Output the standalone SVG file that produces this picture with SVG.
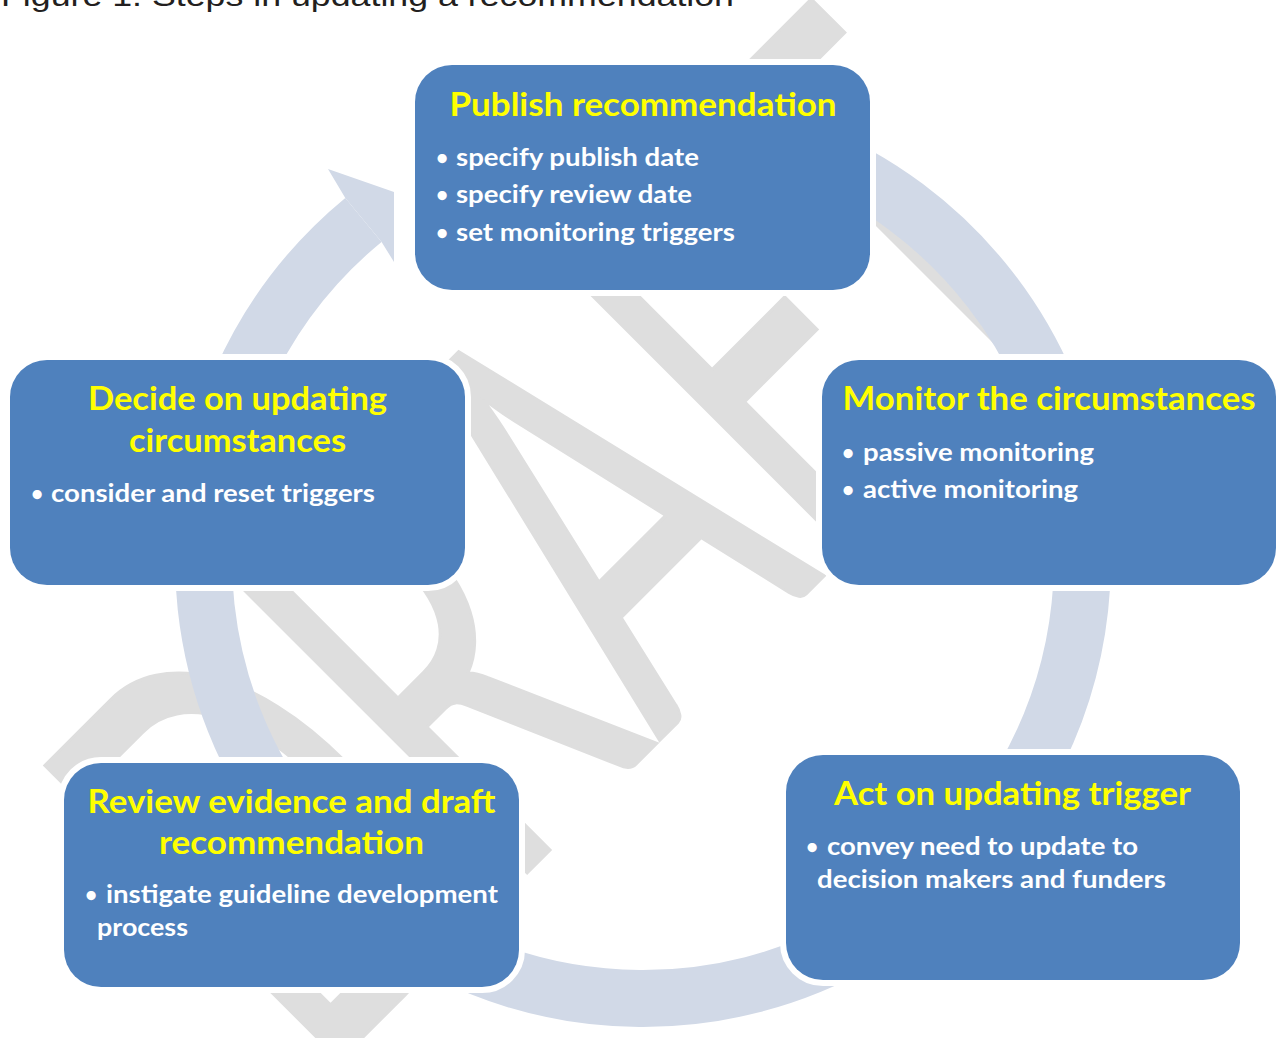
<svg xmlns="http://www.w3.org/2000/svg" width="1279" height="1038" viewBox="0 0 1279 1038">
<style>
  .box{fill:#4f81bd;stroke:#ffffff;stroke-width:12;paint-order:stroke}
  .ttl{font-family:Lato,"Open Sans","Liberation Sans",sans-serif;font-weight:700;font-size:32px;fill:#ffff00}
  .txt{font-family:Lato,"Open Sans","Liberation Sans",sans-serif;font-weight:700;font-size:25px;fill:#ffffff}
  .dot{font-family:Lato,"Open Sans","Liberation Sans",sans-serif;font-weight:700;font-size:21px;fill:#ffffff;text-anchor:middle}
  .ring{fill:none;stroke:#d1d9e7;stroke-width:57}
</style>
<rect x="0" y="0" width="1279" height="1038" fill="#ffffff"/>
<g id="watermark">
  <text transform="rotate(-45)" x="-542" y="990" textLength="1122" lengthAdjust="spacingAndGlyphs" font-family="Lato,'Open Sans',sans-serif" font-size="582" fill="#dedede" stroke="#dedede" stroke-width="3">DRAFT</text>
</g>
<text id="figure-title" x="1" y="6" textLength="733" lengthAdjust="spacingAndGlyphs" font-family="'Liberation Sans',Arial,sans-serif" font-size="29" fill="#231f20">Figure 1. Steps in updating a recommendation</text>
<g id="connectors">
  <path class="ring" d="M 492.7 146.0 A 439.5 439.5 0 1 1 363.4 219.9"/>
  <polygon points="345.3,197.9 328,169 394,192 394,262 381.6,241.9" fill="#d1d9e7"/>
</g>
<g id="node-publish">
  <rect class="box" x="415" y="65" width="455" height="225" rx="37" ry="37"/>
  <text class="ttl" x="449.5" y="116" textLength="387" lengthAdjust="spacingAndGlyphs">Publish recommendation</text>
  <text class="dot" x="442" y="165">•</text>
  <text class="txt" x="456" y="166" textLength="243" lengthAdjust="spacingAndGlyphs">specify publish date</text>
  <text class="dot" x="442" y="202">•</text>
  <text class="txt" x="456" y="203" textLength="236" lengthAdjust="spacingAndGlyphs">specify review date</text>
  <text class="dot" x="442" y="240">•</text>
  <text class="txt" x="456" y="241" textLength="279" lengthAdjust="spacingAndGlyphs">set monitoring triggers</text>
</g>
<g id="node-monitor">
  <rect class="box" x="822" y="360" width="454" height="225" rx="37" ry="37"/>
  <text class="ttl" x="842.5" y="410" textLength="413" lengthAdjust="spacingAndGlyphs">Monitor the circumstances</text>
  <text class="dot" x="848" y="460">•</text>
  <text class="txt" x="863" y="461" textLength="231" lengthAdjust="spacingAndGlyphs">passive monitoring</text>
  <text class="dot" x="848" y="497">•</text>
  <text class="txt" x="863" y="498" textLength="215" lengthAdjust="spacingAndGlyphs">active monitoring</text>
</g>
<g id="node-act">
  <rect class="box" x="786" y="755" width="454" height="225" rx="37" ry="37"/>
  <text class="ttl" x="834" y="805" textLength="357" lengthAdjust="spacingAndGlyphs">Act on updating trigger</text>
  <text class="dot" x="812" y="854">•</text>
  <text class="txt" x="827" y="855" textLength="311" lengthAdjust="spacingAndGlyphs">convey need to update to</text>
  <text class="txt" x="817" y="888" textLength="349" lengthAdjust="spacingAndGlyphs">decision makers and funders</text>
</g>
<g id="node-review">
  <rect class="box" x="64" y="763" width="455" height="224" rx="37" ry="37"/>
  <text class="ttl" x="87.5" y="813" textLength="408" lengthAdjust="spacingAndGlyphs">Review evidence and draft</text>
  <text class="ttl" x="159" y="854" textLength="265" lengthAdjust="spacingAndGlyphs">recommendation</text>
  <text class="dot" x="91" y="902">•</text>
  <text class="txt" x="106" y="903" textLength="392" lengthAdjust="spacingAndGlyphs">instigate guideline development</text>
  <text class="txt" x="97" y="936" textLength="91" lengthAdjust="spacingAndGlyphs">process</text>
</g>
<g id="node-decide">
  <rect class="box" x="10" y="360" width="455" height="225" rx="37" ry="37"/>
  <text class="ttl" x="88" y="410" textLength="299" lengthAdjust="spacingAndGlyphs">Decide on updating</text>
  <text class="ttl" x="129" y="452" textLength="217" lengthAdjust="spacingAndGlyphs">circumstances</text>
  <text class="dot" x="37" y="501">•</text>
  <text class="txt" x="51" y="502" textLength="324" lengthAdjust="spacingAndGlyphs">consider and reset triggers</text>
</g>
</svg>
